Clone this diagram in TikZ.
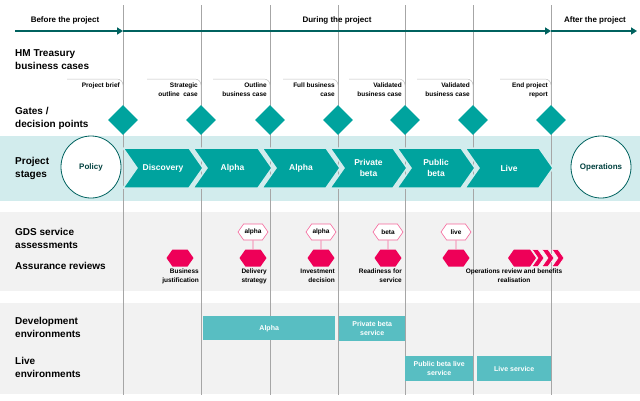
\documentclass[tikz,border=0pt]{standalone}
\usepackage{fontspec}
\setmainfont{Liberation Sans}
\usetikzlibrary{shapes.symbols,shapes.geometric,arrows.meta}
\definecolor{teal1}{RGB}{0,163,158}
\definecolor{teal2}{RGB}{88,190,194}
\definecolor{band}{RGB}{210,236,237}
\definecolor{grayband}{RGB}{242,242,242}
\definecolor{pinkred}{RGB}{238,0,88}
\tikzset{
  rowlabel/.style={anchor=west,align=left,font=\bfseries\fontsize{10}{13}\selectfont,inner sep=0pt},
  smalllabel/.style={align=right,font=\bfseries\fontsize{6.5}{8.5}\selectfont,inner sep=1pt},
  gate/.style={diamond,fill=teal1,minimum width=30,minimum height=30,inner sep=0pt},
  stage/.style={signal,signal from=west,signal to=east,signal pointer angle=110,fill=teal1,draw=band,line width=1.5,text=white,
    font=\bfseries\fontsize{8.5}{11}\selectfont,minimum height=40,inner sep=0pt,align=center},
  endstate/.style={ellipse,draw=teal1!60!black,fill=white,line width=0.8,minimum width=60,minimum height=62,
    font=\bfseries\fontsize{8}{10}\selectfont,text=teal1!40!black,inner sep=0pt},
  review/.style={signal,signal to=east and west,signal pointer angle=110,fill=pinkred,minimum width=27,minimum height=17,inner sep=0pt},
  assess/.style={signal,signal to=east and west,signal pointer angle=110,draw=pinkred!60,fill=white,line width=0.6,
    minimum width=30,minimum height=16,inner sep=0pt,font=\bfseries\fontsize{6.5}{8}\selectfont},
  env/.style={fill=teal2,text=white,font=\bfseries\fontsize{7}{9}\selectfont,align=center,inner sep=0pt,anchor=north west},
  divider/.style={draw=gray!70,line width=0.6},
  callout/.style={draw=gray!50,line width=0.5,rounded corners=6},
}
\begin{document}
\begin{tikzpicture}[x=1pt,y=1pt,yscale=-1]
\useasboundingbox (0,0) rectangle (640,400);

% bands
\fill[band] (0,136) rectangle (640,201);
\fill[grayband] (0,212) rectangle (640,291);
\fill[grayband] (0,303) rectangle (640,394);

% dividers
\foreach \x/\n in {123/a,201/b,270/c,338/d,405/e,473/f,551/g}{
  \coordinate (top\n) at (\x,5);
  \coordinate (bot\n) at (\x,395);
  \draw[divider] (top\n) -- (bot\n);
}

% timeline
\coordinate (tl0) at (15,31);
\coordinate (tl1) at (123,31);
\coordinate (tl2) at (551,31);
\coordinate (tl3) at (637,31);
\draw[teal1!60!black,line width=1.6,-{Triangle[length=6,width=7]}] (tl0) -- (tl1);
\draw[teal1!60!black,line width=1.6,-{Triangle[length=6,width=7]}] (tl1) -- (tl2);
\draw[teal1!60!black,line width=1.6,-{Triangle[length=6,width=7]}] (tl2) -- (tl3);
\node[smalllabel,font=\bfseries\fontsize{8}{10}\selectfont] (before) at (65,20) {Before the project};
\node[smalllabel,font=\bfseries\fontsize{8}{10}\selectfont] (during) at (337,20) {During the project};
\node[smalllabel,font=\bfseries\fontsize{8}{10}\selectfont] (after) at (595,20) {After the project};

% row labels
\node[rowlabel] (hmt) at (15,60) {HM Treasury\\business cases};
\node[rowlabel] (gates) at (15,118) {Gates /\\decision points};
\node[rowlabel] (stages) at (15,168) {Project\\stages};
\node[rowlabel] (gds) at (15,238) {GDS service\\assessments};
\node[rowlabel] (assur) at (15,266) {Assurance reviews};
\node[rowlabel] (dev) at (15,327) {Development\\environments};
\node[rowlabel] (live) at (15,367) {Live\\environments};

% business cases
\foreach \s/\x/\t/\n in {67/123/Project brief/a,147/201/Strategic\\outline\ \ case/b,213/270/Outline\\business case/c,
    283/338/Full business\\case/d,349/405/Validated\\business case/e,417/473/Validated\\business case/f,500/551/End project\\report/g}{
  \coordinate (cs\n) at (\s,79);
  \coordinate (ce\n) at (\x,100);
  \draw[callout] (cs\n) -| (ce\n);
  \node[smalllabel,anchor=north east] (bc\n) at (\x-2,82) {\t};
  \node[gate] (gate\n) at (\x,120) {};
}

% stages
\node[endstate] (policy) at (91,167) {Policy};
\node[endstate] (ops) at (601,167) {Operations};
\foreach \l/\r/\t/\n in {123/203/Discovery/a,193/272/Alpha/b,262/340/Alpha/c,330/407/Private\\beta/d,397/475/Public\\beta/e,465/553/Live/f}{
  \node[stage,minimum width=\r-\l] (st\n) at ({(\l+\r)/2},168) {\t};
}

% assessments and reviews
\node[review] (rv1) at (180,258) {};
\node[smalllabel,anchor=north east] (rl1) at (200,268) {Business\\justification};
\foreach \x/\a/\l/\n in {253/alpha/Delivery\\strategy/2,321/alpha/Investment\\decision/3,388/beta/Readiness for\\service/4,456/live//5}{
  \node[review] (rv\n) at (\x,258) {};
  \node[assess] (as\n) at (\x,232) {\a};
  \draw[pinkred!60,line width=0.6] (as\n) -- (rv\n);
  \node[smalllabel,anchor=north east] (rl\n) at (\x+15,268) {\l};
}
\node[review,minimum width=28] (rv6) at (522,258) {};
\foreach \x/\n in {538/a,548/b,558/c}{
  \node[signal,signal from=west,signal to=east,signal pointer angle=110,fill=pinkred,draw=white,line width=0.5,
    minimum width=11,minimum height=17,inner sep=0pt] (ch\n) at (\x,258) {};
}
\node[smalllabel,align=center,anchor=north] (rl6) at (514,268) {Operations review and benefits\\realisation};

% environments
\node[env,minimum width=132,minimum height=24] (alphaenv) at (203,316) {Alpha};
\node[env,minimum width=66,minimum height=25] (privenv) at (339,316) {Private beta\\service};
\node[env,minimum width=68,minimum height=25] (pubenv) at (405,356) {Public beta live\\service};
\node[env,minimum width=74,minimum height=25] (liveenv) at (477,356) {Live service};
\end{tikzpicture}
\end{document}
